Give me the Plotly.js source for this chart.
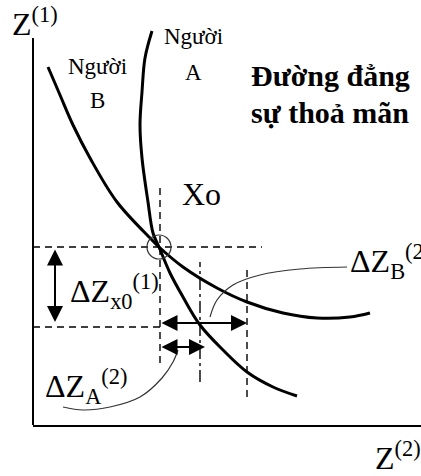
<!DOCTYPE html>
<html>
<head>
<meta charset="utf-8">
<script src="https://cdn.plot.ly/plotly-3.0.1.min.js"></script>
<style>
  html, body { margin: 0; padding: 0; background: #fff; }
  #chart { width: 421px; height: 476px; }
</style>
</head>
<body>
<div id="chart"></div>
<script>
// Indifference curves of two traders A and B; horizontal axis Z(2), vertical axis Z(1).
const curveA_z2 = [119, 112, 109, 107, 109, 115, 120, 126, 137, 150, 167, 190, 214, 240, 264];
const curveA_z1 = [394, 367, 333, 300, 267, 223, 192, 178, 152, 128, 100, 75, 53, 38, 29];

const curveB_z2 = [15, 27, 40, 57, 84, 119, 126, 150, 184, 214, 250, 284, 317, 337];
const curveB_z1 = [358, 330, 300, 267, 223, 185, 178, 158, 137, 123, 112, 107, 108, 112];

// Common point Xo
const pointX0 = { z2: 126, z1: 178 };

// Guide levels
const z1_X0 = 178;          // level of Xo
const z1_low = 98;          // Z(1) after giving up ΔZx0(1)
const z2_X0 = 127;          // Xo position on Z(2)
const z2_A = 167;           // A's compensation end
const z2_B = 214;           // B's compensation end
const z1_guideTop = 237;    // top of the Xo vertical guide
const z1_zero = 0;

// Arrow levels
const arrowZ1_z2 = 22;
const arrowZ1_top = 177, arrowZ1_bottom = 103;
const arrowB_z1 = 102, arrowB_from = 127, arrowB_to = 214;
const arrowA_z1 = 78, arrowA_from = 127, arrowA_to = 172;

// Leader curves from labels
const leaderB_z2 = [177, 184, 200, 227, 267, 314];
const leaderB_z1 = [108, 125, 140, 150, 156, 158];
const leaderA_z2 = [145, 140, 129, 107, 77, 50, 30];
const leaderA_z1 = [75, 63, 47, 28, 18, 15, 18];

const SERIF = 'Liberation Serif';
const ink = '#000';

const thick = { color: ink, width: 3, shape: 'spline', smoothing: 1 };
const dashed = { color: ink, width: 1.4, dash: '7px,5px' };
const dashdot = { color: ink, width: 1.4, dash: '12px,4px,3px,4px' };
const thin = { color: '#333', width: 1.2, shape: 'spline', smoothing: 1 };

const traces = [
  { x: curveA_z2, y: curveA_z1, mode: 'lines', line: thick, hoverinfo: 'skip' },
  { x: curveB_z2, y: curveB_z1, mode: 'lines', line: thick, hoverinfo: 'skip' },
  { x: [0, 229], y: [z1_X0, z1_X0], mode: 'lines', line: dashed },
  { x: [0, z2_X0], y: [z1_low, z1_low], mode: 'lines', line: dashed },
  { x: [z2_X0, z2_X0], y: [62, z1_guideTop], mode: 'lines', line: dashed },
  { x: [z2_A, z2_A], y: [43, 163], mode: 'lines', line: dashdot },
  { x: [z2_B, z2_B], y: [28, 155], mode: 'lines', line: dashed },
  { x: leaderB_z2, y: leaderB_z1, mode: 'lines', line: thin },
  { x: leaderA_z2, y: leaderA_z1, mode: 'lines', line: thin },
  { x: [pointX0.z2], y: [pointX0.z1], mode: 'markers',
    marker: { symbol: 'circle-open', size: 24, line: { color: '#333', width: 1.2 }, color: '#333' } }
];

function arrow(x0, y0, x1, y1) {
  return {
    x: x1, y: y1, ax: x0, ay: y0, xref: 'x', yref: 'y', axref: 'x', ayref: 'y',
    text: '', showarrow: true, arrowside: 'end+start',
    arrowhead: 2, startarrowhead: 2, arrowsize: 1.6, startarrowsize: 1.6,
    arrowwidth: 2, arrowcolor: ink, standoff: 0, startstandoff: 0
  };
}

function label(text, x, y, size, opts) {
  return Object.assign({
    text: text, x: x, y: y, xref: 'x', yref: 'y', showarrow: false,
    xanchor: 'left', yanchor: 'middle',
    font: { family: SERIF, size: size, color: ink }
  }, opts || {});
}

const annotations = [
  arrow(arrowZ1_z2, arrowZ1_top, arrowZ1_z2, arrowZ1_bottom),
  arrow(arrowB_from, arrowB_z1, arrowB_to, arrowB_z1),
  arrow(arrowA_from, arrowA_z1, arrowA_to, arrowA_z1),

  label('Z<sup>(1)</sup>', -23 / 388, 403, 32, { xref: 'paper' }),
  label('Z<sup>(2)</sup>', 340, -31 / 405, 32, { yref: 'paper' }),
  label('Người', 160, 389, 23, { xanchor: 'center' }),
  label('A', 160, 353, 23, { xanchor: 'center' }),
  label('Người', 64, 359, 23, { xanchor: 'center' }),
  label('B', 64, 325, 23, { xanchor: 'center' }),
  label('<b>Đường đẳng</b>', 216, 350, 30),
  label('<b>sự thoả mãn</b>', 216, 313, 30),
  label('Xo', 147, 231, 32),
  label('ΔZ<sub>x0</sub><sup>(1)</sup>', 35, 134, 32),
  label('ΔZ<sub>B</sub><sup>(2)</sup>', 315, 164, 32),
  label('ΔZ<sub>A</sub><sup>(2)</sup>', 10, 39, 32)
];

const layout = {
  width: 421, height: 476,
  margin: { l: 33, r: 0, t: 20, b: 51, pad: 0 },
  paper_bgcolor: '#fff', plot_bgcolor: '#fff',
  showlegend: false,
  xaxis: { range: [0, 388], showline: true, linecolor: ink, linewidth: 2,
           showgrid: false, zeroline: false, showticklabels: false, ticks: '', fixedrange: true },
  yaxis: { range: [0, 405], showline: false,
           showgrid: false, zeroline: false, showticklabels: false, ticks: '', fixedrange: true },
  shapes: [
    // vertical Z(1) axis
    { type: 'line', xref: 'paper', yref: 'y', x0: 0, x1: 0, y0: z1_zero, y1: 387,
      line: { color: ink, width: 2 } }
  ],
  annotations: annotations
};

Plotly.newPlot('chart', traces, layout, { staticPlot: true, displayModeBar: false });
</script>
</body>
</html>
